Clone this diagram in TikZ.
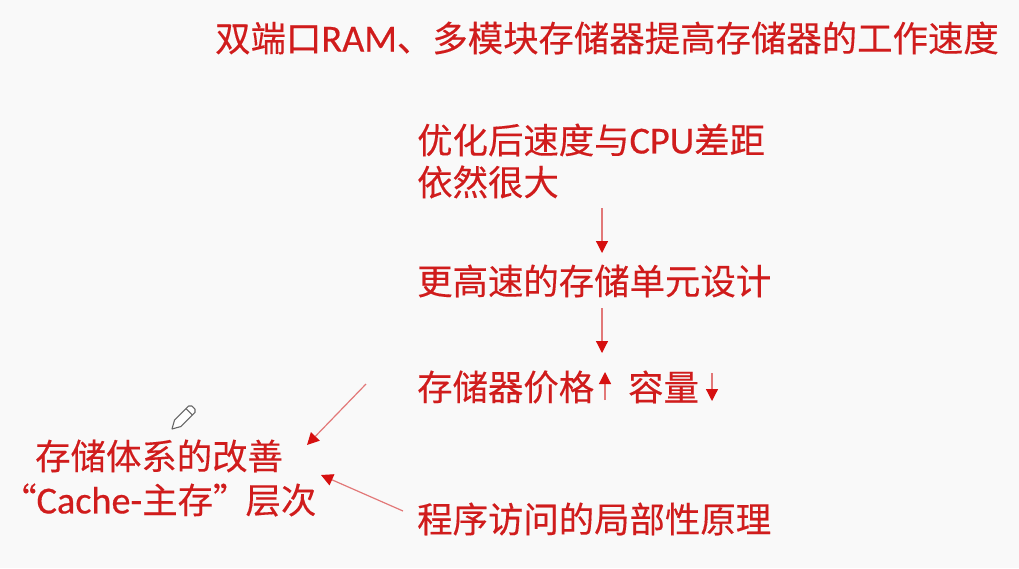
\documentclass[tikz,border=0pt]{standalone}
\usepackage{fontspec}
\setmainfont[FakeBold=0.25]{Noto Sans CJK SC}
\newfontfamily\latinf[FakeBold=0.4,Scale=1.08]{Carlito}
\usetikzlibrary{arrows.meta}
\definecolor{redtxt}{RGB}{208,28,28}
\definecolor{redln}{RGB}{226,120,120}
\definecolor{redhd}{RGB}{214,16,16}
\definecolor{bgc}{RGB}{249,249,249}
\newcommand{\lt}[1]{{\latinf #1}}
\tikzset{
 lbl/.style={text=redtxt,font=\fontsize{35.4pt}{42pt}\selectfont,anchor=west,inner sep=0pt,align=left},
 conn/.style={draw=redln,line width=1.2pt,-{Triangle[length=12pt,width=12pt,color=redhd]}}
}
\begin{document}
\begin{tikzpicture}[x=1pt,y=-1pt]
\useasboundingbox[fill=bgc] (0,0) rectangle (1019,568);
\node[lbl] (top) at (215,38) {双端口\lt{RAM}、多模块存储器提高存储器的工作速度};
\node[lbl] (a) at (417,161) {优化后速度与\lt{CPU}差距\\依然很大};
\node[lbl] (b) at (417,281) {更高速的存储单元设计};
\node[lbl] (c) at (417,387) {存储器价格};
\node[lbl] (c2) at (628,387) {容量};
\node[lbl] (d) at (417,519) {程序访问的局部性原理};
\node[lbl] (e) at (35,456) {存储体系的改善};
\node[lbl] (f) at (1,500) {“\lt{Cache-}主存”\hspace{-3pt}层次};
\coordinate (a1) at (602,208); \coordinate (a2) at (602,253);
\coordinate (b1) at (602,308); \coordinate (b2) at (602,353);
\coordinate (u1) at (605,400); \coordinate (u2) at (605,372);
\coordinate (v1) at (712,373); \coordinate (v2) at (712,401);
\coordinate (l1) at (366,384); \coordinate (l2) at (307,445);
\coordinate (m1) at (403,511); \coordinate (m2) at (321,475);
\draw[conn] (a1)--(a2);
\draw[conn] (b1)--(b2);
\draw[conn] (u1)--(u2);
\draw[conn] (v1)--(v2);
\draw[conn] (l1)--(l2);
\draw[conn] (m1)--(m2);
% pencil
\draw[fill=white,draw=black!60,line width=1.1pt,line join=round]
  (172,429)--(174.5,420.1)--(188.6,406)--(191.8,406)--(195,409.2)--(195,412.4)--(180.9,426.5)--cycle;
\draw[draw=black!60,line width=1pt] (186,408.6)--(192.4,415);
\end{tikzpicture}
\end{document}
